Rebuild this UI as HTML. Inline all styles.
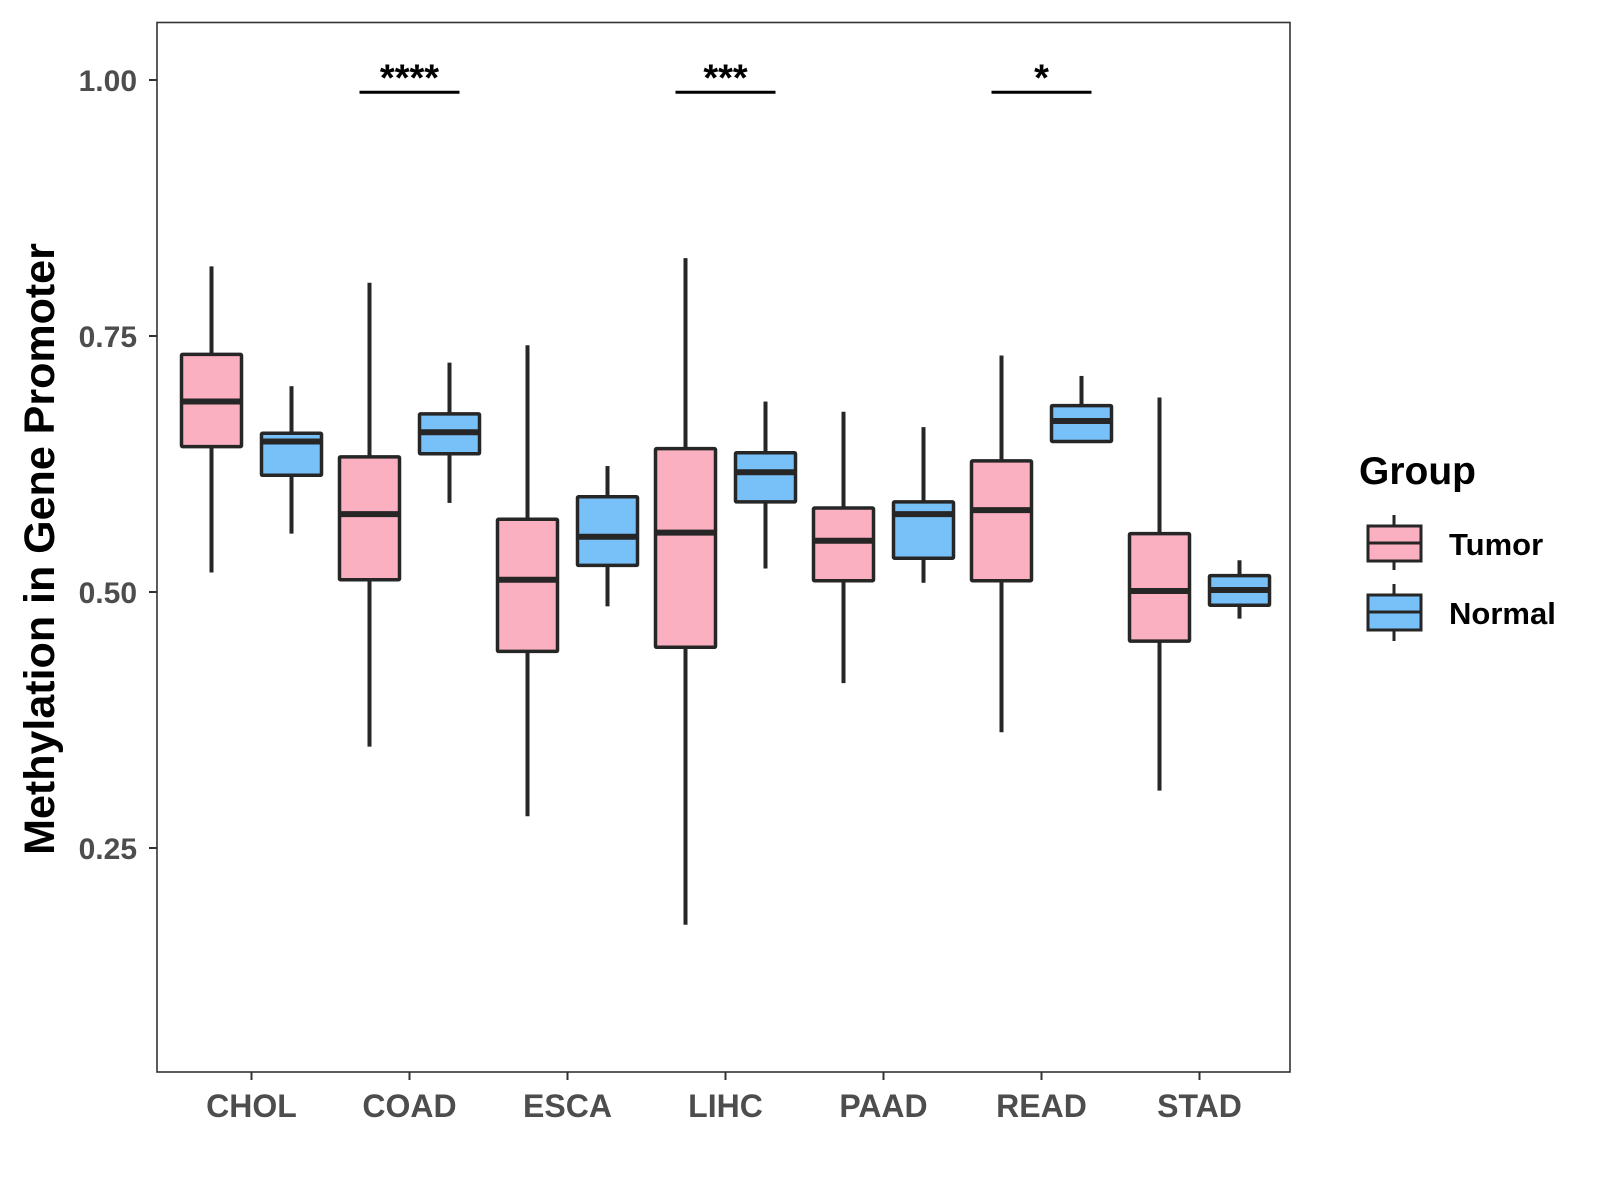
<!DOCTYPE html>
<html><head><meta charset="utf-8"><style>
html,body{margin:0;padding:0;background:#fff}
svg{display:block;font-family:"Liberation Sans",Arial,sans-serif}
</style></head><body>
<svg id="chart" width="1600" height="1200" viewBox="0 0 1600 1200">
<rect x="157" y="22.5" width="1133" height="1049.5" fill="none" stroke="#333" stroke-width="1.6"/>
<g id="marks"></g>
<g id="axes"></g>
<text transform="translate(54,549) rotate(-90)" text-anchor="middle" font-size="43" font-weight="bold" fill="#000">Methylation in Gene Promoter</text>
<g>
<text x="1359" y="484" font-size="39" font-weight="bold" fill="#000">Group</text>
<g>
<line x1="1394" y1="515" x2="1394" y2="570" stroke="#262626" stroke-width="3"/>
<rect x="1368" y="526" width="53" height="35" fill="#FBB0C1" stroke="#262626" stroke-width="3"/>
<line x1="1368" y1="543" x2="1421" y2="543" stroke="#262626" stroke-width="3"/>
<text x="1449" y="555" font-size="31" font-weight="bold" fill="#000">Tumor</text>
</g>
<g>
<line x1="1394" y1="584" x2="1394" y2="641" stroke="#262626" stroke-width="3"/>
<rect x="1368" y="595" width="53" height="35" fill="#78C1F8" stroke="#262626" stroke-width="3"/>
<line x1="1368" y1="612" x2="1421" y2="612" stroke="#262626" stroke-width="3"/>
<text x="1449" y="624" font-size="31" font-weight="bold" fill="#000">Normal</text>
</g>
</g>
</svg>
<script>
const categories = ["CHOL","COAD","ESCA","LIHC","PAAD","READ","STAD"];
const tumorLow  = [0.519,0.349,0.281,0.175,0.411,0.363,0.306];
const tumorQ1   = [0.642,0.512,0.442,0.446,0.511,0.511,0.452];
const tumorMed  = [0.686,0.576,0.512,0.558,0.550,0.580,0.501];
const tumorQ3   = [0.732,0.632,0.571,0.640,0.582,0.628,0.557];
const tumorHigh = [0.818,0.802,0.741,0.826,0.676,0.731,0.690];
const normalLow  = [0.557,0.587,0.486,0.523,0.509,0.646,0.474];
const normalQ1   = [0.614,0.635,0.526,0.588,0.533,0.647,0.487];
const normalMed  = [0.647,0.656,0.554,0.617,0.576,0.667,0.502];
const normalQ3   = [0.655,0.674,0.593,0.636,0.588,0.682,0.516];
const normalHigh = [0.701,0.724,0.623,0.686,0.661,0.711,0.531];
const yTicks = [0.25,0.50,0.75,1.00];
const yTickLabels = ["0.25","0.50","0.75","1.00"];
const sigCategories = ["COAD","LIHC","READ"];
const sigLabels = ["****","***","*"];
const sigLevel = 0.988;

const NS="http://www.w3.org/2000/svg";
const yScale = v => 592 - (v-0.5)*1024;
const xScale = i => 251.5 + 158*i;
const marks = document.getElementById('marks');
const axes = document.getElementById('axes');
function mk(tag, attrs, parent){const e=document.createElementNS(NS,tag);for(const k in attrs)e.setAttribute(k,attrs[k]);parent.appendChild(e);return e;}

function drawBox(cx, lo, q1, med, q3, hi, fill, name){
  const g = mk('g',{},marks);
  
  
  const w=60;
  mk('line',{x1:cx,x2:cx,y1:yScale(hi),y2:yScale(q3),stroke:'#262626','stroke-width':4},g);
  mk('line',{x1:cx,x2:cx,y1:yScale(q1),y2:yScale(lo),stroke:'#262626','stroke-width':4},g);
  mk('rect',{x:cx-w/2,y:yScale(q3),width:w,height:yScale(q1)-yScale(q3),fill:fill,stroke:'#262626','stroke-width':3.5,rx:1},g);
  mk('line',{x1:cx-w/2,x2:cx+w/2,y1:yScale(med),y2:yScale(med),stroke:'#262626','stroke-width':6},g);
}
categories.forEach((c,i)=>{
  drawBox(xScale(i)-40,tumorLow[i],tumorQ1[i],tumorMed[i],tumorQ3[i],tumorHigh[i],'#FBB0C1','box-tumor-'+c.toLowerCase());
  drawBox(xScale(i)+40,normalLow[i],normalQ1[i],normalMed[i],normalQ3[i],normalHigh[i],'#78C1F8','box-normal-'+c.toLowerCase());
  const t = mk('line',{x1:xScale(i),x2:xScale(i),y1:1072,y2:1080,stroke:'#333','stroke-width':2},axes);
  
  
  const l = mk('text',{x:xScale(i),y:1117,'text-anchor':'middle','font-size':32,'font-weight':'bold',fill:'#4d4d4d'},axes);
  l.textContent=c;
  
  
});
yTicks.forEach((v,i)=>{
  const t = mk('line',{x1:149,x2:157,y1:yScale(v),y2:yScale(v),stroke:'#333','stroke-width':2},axes);
  
  
  const l = mk('text',{x:137,y:yScale(v)+11,'text-anchor':'end','font-size':30,'font-weight':'bold',fill:'#4d4d4d'},axes);
  l.textContent=yTickLabels[i];
  
  
});
sigCategories.forEach((c,k)=>{
  const i = categories.indexOf(c);
  const y = yScale(sigLevel);
  const b = mk('line',{x1:xScale(i)-50,x2:xScale(i)+50,y1:y,y2:y,stroke:'#000','stroke-width':3},marks);
  
  
  const s = mk('text',{x:xScale(i),y:y-2,'text-anchor':'middle','font-size':38,'font-weight':'bold',fill:'#000'},marks);
  s.textContent=sigLabels[k];
  
  
});
</script>
</body></html>
